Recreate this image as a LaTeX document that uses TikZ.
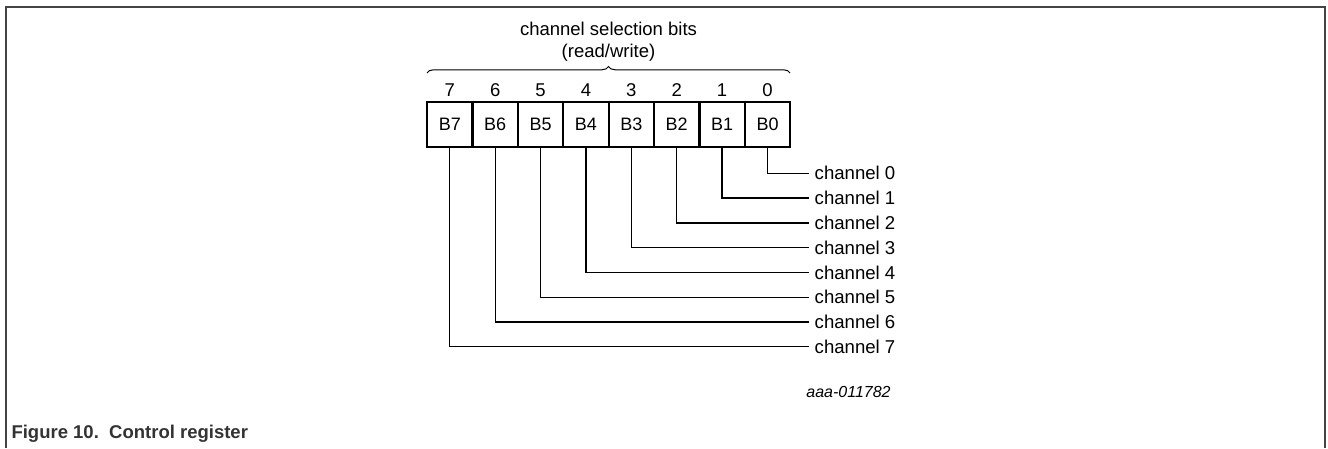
\documentclass[tikz,border=0pt]{standalone}
\usepackage{fontspec}
\setmainfont{Liberation Sans}
\usetikzlibrary{decorations.pathreplacing}
\definecolor{marco}{HTML}{444444}
\definecolor{titulo}{HTML}{333333}
\begin{document}
\begin{tikzpicture}[x=1pt, y=-1pt,
    bitbox/.style={draw, line width=2.2pt, minimum width=45.4pt, minimum height=45pt, inner sep=0pt, font=\fontsize{18}{21}\selectfont},
    bitnum/.style={font=\fontsize{18.5}{22}\selectfont},
    chlabel/.style={anchor=west, inner sep=5.5pt, font=\fontsize{18.6}{22}\selectfont},
    wire/.style={line width=1.3pt}]
        \useasboundingbox (0,0) rectangle (1328,448);
        % Marco de la figura
        \draw[marco, line width=1.5pt] (6,448) -- (6,7) -- (1325,7) -- (1325,448);
        % Registro de 8 bits con sus numeros
        \foreach \i in {0,...,7} {
            \node[bitbox] (b\i) at (767.5-45.39*\i,124.3) {B\i};
            \node[bitnum] (n\i) at (767.5-45.39*\i,90) {\i};
        }
        % Llave sobre los bits
        \coordinate (llaveI) at (427,73);
        \coordinate (llaveD) at (790,73);
        \draw[line width=1pt, decorate, decoration={brace, amplitude=6.5pt}] (llaveI) -- (llaveD);
        \node[bitnum, align=center] (titbits) at (608.5,42) {channel selection bits\\(read/write)};
        % Lineas a cada canal
        \foreach \i in {0,...,7} {
            \node[chlabel] (ch\i) at (809,173.3+24.78*\i) {channel \i};
            \draw[wire] (b\i.south) |- (ch\i.west);
        }
        % Codigo de la figura
        \node[font=\fontsize{16}{19}\selectfont\itshape] (codigo) at (848.5,392) {aaa-011782};
        % Titulo de la figura
        \node[anchor=west, text=titulo, font=\fontsize{18.5}{22}\selectfont\bfseries] (pie) at (8,434) {Figure 10.\ \ Control register};
    \end{tikzpicture}
\end{document}
